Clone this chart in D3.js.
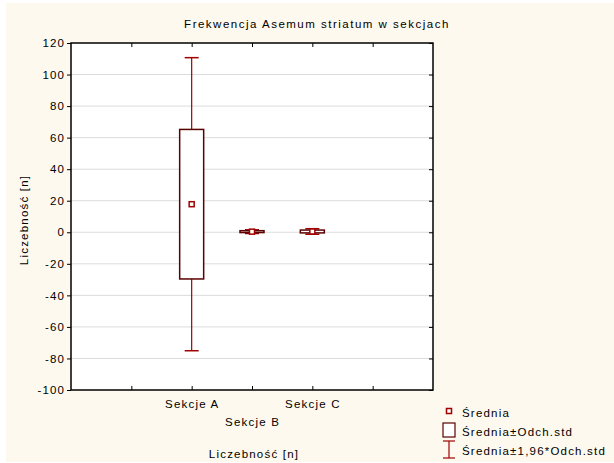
<!DOCTYPE html>
<html>
<head>
<meta charset="utf-8">
<script src="https://cdn.jsdelivr.net/npm/d3@7"></script>
<style>
  body { margin: 0; background: #fff; }
  svg text { font-family: "Liberation Sans", Arial, sans-serif; fill: #000; letter-spacing: 1.2px; }
</style>
</head>
<body>
<div id="chart"></div>
<script>
// Data
const categories = ["Sekcje A", "Sekcje B", "Sekcje C"];
const means = [17.8, 0.4, 0.5];
const sds = [47.4, 0.6, 0.9];
const yTicks = [-100, -80, -60, -40, -20, 0, 20, 40, 60, 80, 100, 120];
const legendLabels = ["Średnia", "Średnia±Odch.std", "Średnia±1,96*Odch.std"];

const W = 614, H = 463;
const margin = { top: 43, right: 181, bottom: 73, left: 71 };
const width = W - margin.left - margin.right;
const height = H - margin.top - margin.bottom;

const root = d3.select("#chart")
  .append("svg")
    .attr("width", W)
    .attr("height", H);

// cream background
root.append("rect")
  .attr("x", 6).attr("y", 3)
  .attr("width", W - 6).attr("height", H - 4)
  .attr("fill", "#fef9ee");

const svg = root.append("g")
  .attr("transform", `translate(${margin.left},${margin.top})`);

// X scale: categories at 2,3,4 of a 0..6 range
const x = d3.scaleLinear().domain([0, 6]).range([0, width]);
const y = d3.scaleLinear().domain([-100, 120]).range([height, 0]);

svg.append("rect")
  .attr("width", width).attr("height", height)
  .attr("fill", "#fff");

// grid
svg.append("g")
  .selectAll("line")
  .data(yTicks.filter(d => d > -100 && d < 120))
  .enter().append("line")
    .attr("x1", 0).attr("x2", width)
    .attr("y1", d => y(d)).attr("y2", d => y(d))
    .attr("stroke", "#dcdcdc")
    .attr("stroke-width", 1);

// Y axis
const yAxis = svg.append("g")
  .call(d3.axisLeft(y).tickValues(yTicks).tickSize(4).tickPadding(3).tickFormat(d => String(d)));
yAxis.select(".domain").remove();
yAxis.selectAll("line").attr("stroke", "#000");
yAxis.selectAll("text").style("font-size", "11.5px").attr("fill", "#000").attr("dx", "1.2");

// inner ticks on other sides
const xTickVals = [1, 2, 3, 4, 5];
svg.append("g")
  .call(d3.axisBottom(x).tickValues(xTickVals).tickSize(4).tickFormat(""))
  .call(g => g.select(".domain").remove())
  .call(g => g.selectAll("line").attr("stroke", "#000"));
svg.append("g")
  .attr("transform", `translate(0,${height})`)
  .call(d3.axisTop(x).tickValues(xTickVals).tickSize(4).tickFormat(""))
  .call(g => g.select(".domain").remove())
  .call(g => g.selectAll("line").attr("stroke", "#000"));
svg.append("g")
  .attr("transform", `translate(${width},0)`)
  .call(d3.axisLeft(y).tickValues(yTicks).tickSize(4).tickFormat(""))
  .call(g => g.select(".domain").remove())
  .call(g => g.selectAll("line").attr("stroke", "#000"));

// frame
svg.append("rect")
  .attr("width", width).attr("height", height)
  .attr("fill", "none")
  .attr("stroke", "#000")
  .attr("stroke-width", 1.5);

// x labels, staggered
svg.selectAll(".xlab")
  .data(categories)
  .enter().append("text")
    .attr("class", "xlab")
    .attr("x", (d, i) => x(i + 2) + 0.6)
    .attr("y", (d, i) => height + (i % 2 === 0 ? 18 : 36))
    .attr("text-anchor", "middle")
    .style("font-size", "11.5px")
    .text(d => d);

const boxW = 24, capW = 14;
const stats = categories.map((c, i) => ({ c, i, m: means[i], s: sds[i] }));

const groups = svg.selectAll(".grp")
  .data(stats)
  .enter().append("g")
    .attr("class", "grp");

// whiskers
groups.append("line")
  .attr("x1", d => x(d.i + 2)).attr("x2", d => x(d.i + 2))
  .attr("y1", d => y(d.m + 1.96 * d.s)).attr("y2", d => y(d.m - 1.96 * d.s))
  .attr("stroke", "#a00000").attr("stroke-width", 1.2);
[1, -1].forEach(sign => {
  groups.append("line")
    .attr("x1", d => x(d.i + 2) - capW / 2).attr("x2", d => x(d.i + 2) + capW / 2)
    .attr("y1", d => y(d.m + sign * 1.96 * d.s)).attr("y2", d => y(d.m + sign * 1.96 * d.s))
    .attr("stroke", "#a00000").attr("stroke-width", 1.5);
});

// boxes
groups.append("rect")
  .attr("x", d => x(d.i + 2) - boxW / 2)
  .attr("width", boxW)
  .attr("y", d => y(d.m + d.s))
  .attr("height", d => Math.max(y(d.m - d.s) - y(d.m + d.s), 0.5))
  .attr("fill", "#fff")
  .attr("stroke", "#5a0000")
  .attr("stroke-width", 1.5);

// mean markers
groups.append("rect")
  .attr("x", d => x(d.i + 2) - 2.5)
  .attr("y", d => y(d.m) - 2.5)
  .attr("width", 5).attr("height", 5)
  .attr("fill", "#fff")
  .attr("stroke", "#a00000")
  .attr("stroke-width", 1.5);

// title
root.append("text")
  .attr("x", 317).attr("y", 28)
  .attr("text-anchor", "middle")
  .style("font-size", "11.5px")
  .style("letter-spacing", "1.5px")
  .text("Frekwencja Asemum striatum w sekcjach");

// y axis title
root.append("text")
  .attr("transform", `translate(28,220) rotate(-90)`)
  .attr("text-anchor", "middle")
  .style("font-size", "11.5px")
  .text("Liczebność [n]");

// x axis title
root.append("text")
  .attr("x", 254).attr("y", 458)
  .attr("text-anchor", "middle")
  .style("font-size", "11.5px")
  .text("Liczebność [n]");

// legend
const lg = root.append("g");
lg.append("rect")
  .attr("x", 446.5).attr("y", 408.5).attr("width", 5).attr("height", 5)
  .attr("fill", "#fff").attr("stroke", "#a00000").attr("stroke-width", 1.5);
lg.append("rect")
  .attr("x", 443).attr("y", 423).attr("width", 12).attr("height", 14)
  .attr("fill", "#fff").attr("stroke", "#5a0000").attr("stroke-width", 1.2);
lg.append("line").attr("x1", 449).attr("x2", 449).attr("y1", 441).attr("y2", 458)
  .attr("stroke", "#a00000").attr("stroke-width", 1.2);
lg.append("line").attr("x1", 443).attr("x2", 455).attr("y1", 441).attr("y2", 441)
  .attr("stroke", "#a00000").attr("stroke-width", 1.2);
lg.append("line").attr("x1", 443).attr("x2", 455).attr("y1", 458).attr("y2", 458)
  .attr("stroke", "#a00000").attr("stroke-width", 1.2);
lg.selectAll(".lt")
  .data(legendLabels)
  .enter().append("text")
    .attr("class", "lt")
    .attr("x", 462)
    .attr("y", (d, i) => 417 + i * 19)
    .style("font-size", "11.5px")
    .text(d => d);
</script>
</body>
</html>
